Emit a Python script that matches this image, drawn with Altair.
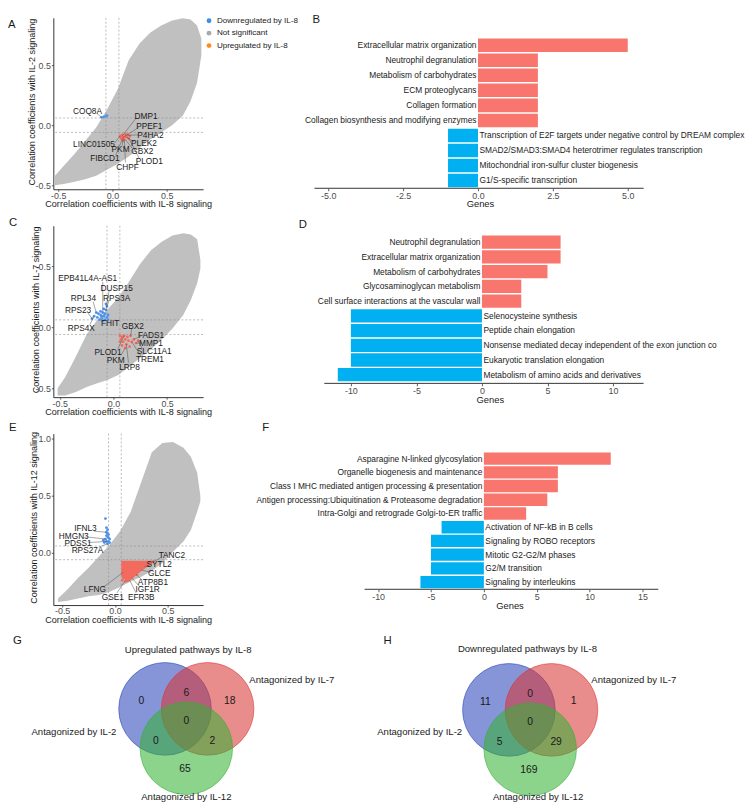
import altair as alt
import pandas as pd

FONT = "Liberation Sans"
GRAY = "#C0C0C0"
BLUE_PT = "#4E93EE"
RED_PT = "#F26B5E"
BAR_RED = "#F8766D"
BAR_BLUE = "#00B0F0"
TXT = "#1A1A1A"
AXC = "#333333"
TICKLAB = "#4D4D4D"
MINUS = "replace(datum.label, '\u2212', '-')"

# ---------------- Panel A (IL-2 vs IL-8) ----------------
a_env_x = [-0.53, -0.45, -0.35, -0.25, -0.15, -0.05, 0.05, 0.15, 0.25, 0.35, 0.45, 0.55, 0.65, 0.72, 0.78, 0.82]
a_env_lo = [-0.50, -0.49, -0.47, -0.45, -0.42, -0.37, -0.32, -0.26, -0.19, -0.12, -0.06, 0.00, 0.08, 0.20, 0.35, 0.58]
a_env_hi = [-0.42, -0.34, -0.24, -0.13, -0.02, 0.13, 0.30, 0.54, 0.68, 0.77, 0.83, 0.87, 0.89, 0.88, 0.83, 0.72]
a_blue_x = [-0.10, -0.08, -0.06, -0.05]
a_blue_y = [0.065, 0.07, 0.075, 0.08]
a_red_x = [0.07, 0.08, 0.09, 0.10, 0.11, 0.12, 0.13, 0.14, 0.15, 0.09, 0.12, 0.16, 0.10, 0.08]
a_red_y = [-0.09, -0.11, -0.08, -0.10, -0.12, -0.09, -0.10, -0.08, -0.11, -0.12, -0.075, -0.09, -0.13, -0.10]
a_lab = ["COQ8A", "DMP1", "PPEF1", "P4HA2", "PLEK2", "GBX2", "PLOD1", "CHPF", "FIBCD1", "PKM", "LINC01505"]
a_lab_x = [-0.23, 0.31, 0.34, 0.35, 0.29, 0.275, 0.34, 0.14, -0.07, 0.075, -0.17]
a_lab_y = [0.115, 0.08, -0.01, -0.08, -0.15, -0.215, -0.30, -0.345, -0.27, -0.20, -0.155]
a_seg_x1 = [-0.14, 0.22, 0.24, 0.245, 0.20, 0.18, 0.25, 0.12, 0.03, 0.09, 0.02]
a_seg_y1 = [0.095, 0.06, -0.02, -0.08, -0.14, -0.19, -0.28, -0.31, -0.25, -0.17, -0.15]
a_seg_x2 = [-0.10, 0.09, 0.10, 0.14, 0.13, 0.12, 0.15, 0.11, 0.09, 0.10, 0.07]
a_seg_y2 = [0.065, -0.09, -0.10, -0.085, -0.10, -0.12, -0.11, -0.12, -0.12, -0.10, -0.09]

# ---------------- Panel C (IL-7 vs IL-8) ----------------
c_env_x = [-0.52, -0.45, -0.35, -0.25, -0.15, -0.05, 0.05, 0.15, 0.25, 0.35, 0.45, 0.55, 0.65, 0.72, 0.78, 0.81]
c_env_lo = [-0.56, -0.56, -0.53, -0.49, -0.46, -0.43, -0.39, -0.32, -0.25, -0.18, -0.10, -0.01, 0.10, 0.22, 0.36, 0.48]
c_env_hi = [-0.50, -0.41, -0.24, -0.06, 0.06, 0.15, 0.25, 0.38, 0.52, 0.63, 0.70, 0.75, 0.77, 0.76, 0.72, 0.55]
c_blue_x = [-0.20, -0.18, -0.15, -0.13, -0.12, -0.11, -0.10, -0.09, -0.08, -0.08, -0.07, -0.06, -0.06, -0.05, -0.12, -0.14, -0.10, -0.16, -0.07, -0.09, -0.11, -0.05]
c_blue_y = [0.07, 0.09, 0.08, 0.06, 0.10, 0.07, 0.12, 0.09, 0.06, 0.11, 0.14, 0.08, 0.17, 0.10, 0.13, 0.11, 0.05, 0.12, 0.19, 0.15, 0.09, 0.06]
c_red_x = [0.06, 0.07, 0.08, 0.09, 0.10, 0.11, 0.12, 0.13, 0.14, 0.16, 0.17, 0.19, 0.21, 0.08, 0.11, 0.06, 0.15, 0.23]
c_red_y = [-0.07, -0.10, -0.08, -0.12, -0.07, -0.10, -0.14, -0.08, -0.11, -0.07, -0.12, -0.10, -0.13, -0.15, -0.17, -0.12, -0.16, -0.11]
c_lab = ["EPB41L4A-AS1", "DUSP15", "RPL34", "RPS3A", "RPS23", "RPS4X", "FHIT", "GBX2", "FADS1", "MMP1", "SLC11A1", "TREM1", "PLOD1", "PKM", "LRP8"]
c_lab_x = [-0.24, 0.03, -0.28, 0.03, -0.33, -0.30, -0.03, 0.18, 0.35, 0.35, 0.38, 0.34, -0.05, 0.02, 0.15]
c_lab_y = [0.40, 0.32, 0.235, 0.235, 0.14, -0.01, 0.03, 0.01, -0.065, -0.13, -0.195, -0.26, -0.20, -0.265, -0.33]
c_seg_x1 = [-0.10, -0.04, -0.19, -0.04, -0.24, -0.22, -0.06, 0.17, 0.26, 0.27, 0.27, 0.26, 0.04, 0.07, 0.14]
c_seg_y1 = [0.37, 0.30, 0.21, 0.22, 0.12, 0.02, 0.05, -0.01, -0.07, -0.13, -0.18, -0.24, -0.18, -0.23, -0.29]
c_seg_x2 = [-0.10, -0.07, -0.16, -0.06, -0.20, -0.18, -0.08, 0.16, 0.19, 0.21, 0.23, 0.17, 0.10, 0.11, 0.12]
c_seg_y2 = [0.12, 0.14, 0.12, 0.17, 0.07, 0.09, 0.06, -0.07, -0.10, -0.13, -0.11, -0.12, -0.07, -0.17, -0.14]

# ---------------- Panel E (IL-12 vs IL-8) ----------------
e_env_x = [-0.54, -0.45, -0.35, -0.25, -0.15, -0.05, 0.05, 0.15, 0.25, 0.35, 0.45, 0.55, 0.65, 0.72, 0.78, 0.81]
e_env_lo = [-0.43, -0.42, -0.40, -0.38, -0.37, -0.34, -0.30, -0.25, -0.21, -0.16, -0.09, 0.01, 0.10, 0.20, 0.36, 0.45]
e_env_hi = [-0.40, -0.32, -0.22, -0.13, -0.03, 0.07, 0.19, 0.36, 0.62, 0.88, 0.96, 0.97, 0.92, 0.84, 0.70, 0.50]
e_redarea_x = [0.06, 0.12, 0.25, 0.39]
e_redarea_lo = [-0.20, -0.26, -0.16, -0.07]
e_redarea_hi = [-0.07, -0.07, -0.07, -0.07]
e_blue_x = [-0.09, -0.08, -0.07, -0.08, -0.06, -0.07, -0.09, -0.05, -0.06, -0.08, -0.10, -0.07, -0.05, -0.11, -0.06, -0.08, -0.07]
e_blue_y = [0.30, 0.22, 0.20, 0.18, 0.16, 0.14, 0.12, 0.12, 0.10, 0.10, 0.09, 0.08, 0.09, 0.11, 0.13, 0.15, 0.17]
e_red_x = [0.08, 0.10, 0.14, 0.17, 0.21, 0.30, 0.34, 0.07, 0.36]
e_red_y = [-0.22, -0.25, -0.23, -0.21, -0.19, -0.11, -0.09, -0.24, -0.08]
e_lab = ["IFNL3", "HMGN3", "PDSS1", "RPS27A", "TANC2", "SYTL2", "GLCE", "ATP8B1", "IGF1R", "EFR3B", "GSE1", "LFNG"]
e_lab_x = [-0.28, -0.39, -0.35, -0.26, 0.54, 0.42, 0.42, 0.36, 0.31, 0.25, -0.02, -0.19]
e_lab_y = [0.215, 0.15, 0.085, 0.02, -0.02, -0.10, -0.18, -0.255, -0.32, -0.385, -0.385, -0.32]
e_seg_x1 = [-0.20, -0.28, -0.25, -0.15, 0.44, 0.33, 0.34, 0.26, 0.24, 0.20, 0.02, -0.11]
e_seg_y1 = [0.19, 0.14, 0.09, 0.05, -0.04, -0.11, -0.17, -0.24, -0.30, -0.35, -0.35, -0.30]
e_seg_x2 = [-0.08, -0.08, -0.07, -0.07, 0.36, 0.28, 0.25, 0.20, 0.16, 0.14, 0.10, 0.08]
e_seg_y2 = [0.18, 0.12, 0.10, 0.08, -0.08, -0.12, -0.15, -0.19, -0.22, -0.24, -0.24, -0.17]

# ---------------- Bar panels ----------------
b_names = ["Extracellular matrix organization", "Neutrophil degranulation", "Metabolism of carbohydrates",
           "ECM proteoglycans", "Collagen formation", "Collagen biosynthesis and modifying enzymes",
           "Transcription of E2F targets under negative control by DREAM complex",
           "SMAD2/SMAD3:SMAD4 heterotrimer regulates transcription",
           "Mitochondrial iron-sulfur cluster biogenesis", "G1/S-specific transcription"]
b_vals = [5, 2, 2, 2, 2, 2, -1, -1, -1, -1]
b_ticks = [-5, -2.5, 0, 2.5, 5]

d_names = ["Neutrophil degranulation", "Extracellular matrix organization", "Metabolism of carbohydrates",
           "Glycosaminoglycan metabolism", "Cell surface interactions at the vascular wall",
           "Selenocysteine synthesis", "Peptide chain elongation",
           "Nonsense mediated decay independent of the exon junction co",
           "Eukaryotic translation elongation", "Metabolism of amino acids and derivatives"]
d_vals = [6, 6, 5, 3, 3, -10, -10, -10, -10, -11]
d_ticks = [-10, -5, 0, 5, 10]

f_names = ["Asparagine N-linked glycosylation", "Organelle biogenesis and maintenance",
           "Class I MHC mediated antigen processing & presentation",
           "Antigen processing:Ubiquitination & Proteasome degradation",
           "Intra-Golgi and retrograde Golgi-to-ER traffic", "Activation of NF-kB in B cells",
           "Signaling by ROBO receptors", "Mitotic G2-G2/M phases", "G2/M transition",
           "Signaling by interleukins"]
f_vals = [12, 7, 7, 6, 4, -4, -5, -5, -5, -6]
f_ticks = [-10, -5, 0, 5, 10, 15]

# ---------------- Venn panels ----------------
venn_sets = ["Antagonized by IL-2", "Antagonized by IL-7", "Antagonized by IL-12"]
venn_cols = ["#2A43BA", "#D93434", "#35B135"]
venn_cx = [-0.46, 0.46, 0.0]
venn_cy = [0.29, 0.29, -0.56]
region_x = [-0.97, 0.0, 0.94, 0.0, -0.66, 0.56, -0.03]
region_y = [0.46, 0.63, 0.47, 0.02, -0.40, -0.40, -1.0]
g_counts = [0, 6, 18, 0, 0, 2, 65]
h_counts = [11, 0, 1, 0, 5, 29, 169]
g_text = ["Upregulated pathways by IL-8", "Antagonized by IL-7", "Antagonized by IL-2", "Antagonized by IL-12"]
g_text_x = [0.04, 1.36, -1.51, 0.0]
g_text_y = [1.57, 0.915, -0.21, -1.62]
h_text = ["Downregulated pathways by IL-8", "Antagonized by IL-7", "Antagonized by IL-2", "Antagonized by IL-12"]
h_text_x = [-0.06, 1.32, -1.47, 0.17]
h_text_y = [1.60, 0.936, -0.19, -1.60]
text_align = ["center", "left", "right", "center"]

legend_labels = ["Downregulated by IL-8", "Not significant", "Upregulated by IL-8"]
legend_cols = ["#3D8FE8", "#A9A9A9", "#FF8C1A"]


def letter_layer(letter, x, y):
    return alt.Chart(pd.DataFrame({"t": [letter]})).mark_text(
        font=FONT, fontSize=11.5, align="left", baseline="middle", color=TXT
    ).encode(text="t:N", x=alt.value(x), y=alt.value(y))


def scatter_panel(env_x, env_lo, env_hi, bx, by, rx, ry, labs, lab_x, lab_y,
                  sx1, sy1, sx2, sy2, xdom, ydom, yvals, ytitle, ytitle_x,
                  letter, letter_xy, area=None, legend=False):
    W, H = 152, 174
    xs = alt.Scale(domain=xdom, nice=False, zero=False)
    ys = alt.Scale(domain=ydom, nice=False, zero=False)
    common = dict(grid=False, domainColor=AXC, domainWidth=1, tickColor=AXC, tickSize=2,
                  tickWidth=0.8, labelFont=FONT, labelFontSize=9, labelColor=TICKLAB,
                  labelExpr=MINUS, titleFont=FONT, titleFontSize=9.2, titleFontWeight="normal",
                  titleColor=TXT, format=".1f")
    xax = alt.Axis(values=[-0.5, 0, 0.5], title="Correlation coefficients with IL-8 signaling",
                   labelPadding=0, titlePadding=0, **common)
    yax = alt.Axis(values=yvals, title=ytitle, labelPadding=1, titleX=ytitle_x, titleY=H / 2 - 2,
                   titleAngle=270, titleAlign="center", titleBaseline="bottom", **common)

    def X(f):
        return alt.X(f, type="quantitative", scale=xs, axis=xax)

    def Y(f):
        return alt.Y(f, type="quantitative", scale=ys, axis=yax)

    layers = []
    env = pd.DataFrame({"x": env_x, "lo": env_lo, "hi": env_hi})
    layers.append(alt.Chart(env).mark_area(color=GRAY, opacity=1).encode(
        x=X("x"), y=Y("lo"), y2=alt.Y2("hi")))
    thr = pd.DataFrame({"t": [-0.06, 0.06]})
    layers.append(alt.Chart(thr).mark_rule(color="#8C8C8C", strokeDash=[2, 2], strokeWidth=0.6).encode(x=X("t")))
    layers.append(alt.Chart(thr).mark_rule(color="#8C8C8C", strokeDash=[2, 2], strokeWidth=0.6).encode(y=Y("t")))
    if area is not None:
        adf = pd.DataFrame({"x": area[0], "lo": area[1], "hi": area[2]})
        layers.append(alt.Chart(adf).mark_area(color=RED_PT, opacity=1).encode(
            x=X("x"), y=Y("lo"), y2=alt.Y2("hi")))
    layers.append(alt.Chart(pd.DataFrame({"x": bx, "y": by})).mark_circle(
        size=8, color=BLUE_PT, opacity=1).encode(x=X("x"), y=Y("y")))
    layers.append(alt.Chart(pd.DataFrame({"x": rx, "y": ry})).mark_circle(
        size=8, color=RED_PT, opacity=1).encode(x=X("x"), y=Y("y")))
    seg = pd.DataFrame({"x": sx1, "y": sy1, "x2": sx2, "y2": sy2})
    layers.append(alt.Chart(seg).mark_rule(color="#4D4D4D", strokeWidth=0.5).encode(
        x=X("x"), y=Y("y"), x2=alt.X2("x2"), y2=alt.Y2("y2")))
    lab = pd.DataFrame({"x": lab_x, "y": lab_y, "t": labs})
    layers.append(alt.Chart(lab).mark_text(font=FONT, fontSize=8.4, color=TXT).encode(
        x=X("x"), y=Y("y"), text="t:N"))
    if legend:
        for i, (lt, lc) in enumerate(zip(legend_labels, legend_cols)):
            ldf = pd.DataFrame({"t": [lt]})
            layers.append(alt.Chart(ldf).mark_circle(size=24, color=lc, opacity=1).encode(
                x=alt.value(158), y=alt.value(3 + 12.6 * i)))
            layers.append(alt.Chart(ldf).mark_text(font=FONT, fontSize=8.2, align="left",
                                                   baseline="middle", color=TXT).encode(
                text="t:N", x=alt.value(166), y=alt.value(3 + 12.6 * i)))
    layers.append(letter_layer(letter, *letter_xy))
    return alt.layer(*layers).properties(width=W, height=H)


def bar_panel(names, vals, ticks, fmt, xdom, line_lo, line_hi, H, po, align, title_x,
              title_y, letter, letter_xy):
    W = 365
    df = pd.DataFrame({"name": names, "value": vals, "zero": [0] * len(vals)})
    xs = alt.Scale(domain=xdom, nice=False, zero=False)
    ys = alt.Scale(domain=names, paddingInner=0.1, paddingOuter=po, align=align)
    xax = alt.Axis(values=ticks, format=fmt, labelExpr=MINUS, domain=False, grid=False,
                   tickSize=2.5, tickColor=AXC, tickWidth=0.8, labelFont=FONT, labelFontSize=9,
                   labelColor=TICKLAB, labelPadding=0.5, title="Genes", titleFont=FONT,
                   titleFontSize=9.5, titleFontWeight="normal", titleColor=TXT,
                   titleX=title_x, titleY=title_y, titleAlign="center", titleBaseline="top")
    Yn = alt.Y("name:N", scale=ys, axis=None)
    base = alt.Chart(df)
    pos = base.transform_filter("datum.value > 0")
    neg = base.transform_filter("datum.value < 0")
    layers = [
        pos.mark_bar(color=BAR_RED).encode(x=alt.X("value:Q", scale=xs, axis=xax), x2=alt.X2("zero"), y=Yn),
        neg.mark_bar(color=BAR_BLUE).encode(x=alt.X("value:Q", scale=xs, axis=xax), x2=alt.X2("zero"), y=Yn),
        pos.mark_text(font=FONT, fontSize=8.5, color=TXT, align="right", baseline="middle", dx=-1.5).encode(
            x=alt.X("zero:Q", scale=xs, axis=xax), y=Yn, text="name:N"),
        neg.mark_text(font=FONT, fontSize=8.5, color=TXT, align="left", baseline="middle", dx=1.5).encode(
            x=alt.X("zero:Q", scale=xs, axis=xax), y=Yn, text="name:N"),
    ]
    line = pd.DataFrame({"lo": [line_lo], "hi": [line_hi]})
    layers.append(alt.Chart(line).mark_rule(color=AXC, strokeWidth=1).encode(
        x=alt.X("lo:Q", scale=xs, axis=xax), x2=alt.X2("hi"), y=alt.value(H)))
    layers.append(letter_layer(letter, *letter_xy))
    return alt.layer(*layers).properties(width=W, height=H)


def venn_panel(counts, texts, tx, ty, xdom, ydom, W, H, letter, letter_xy):
    xs = alt.Scale(domain=xdom, nice=False, zero=False)
    ys = alt.Scale(domain=ydom, nice=False, zero=False)

    def X(f):
        return alt.X(f, type="quantitative", scale=xs, axis=None)

    def Y(f):
        return alt.Y(f, type="quantitative", scale=ys, axis=None)

    circ = pd.DataFrame({"x": venn_cx, "y": venn_cy, "set": venn_sets})
    cscale = alt.Scale(domain=venn_sets, range=venn_cols)
    layers = [alt.Chart(circ).mark_circle(size=8836, opacity=1, fillOpacity=0.57,
                                           strokeOpacity=0.55, strokeWidth=1).encode(
        x=X("x"), y=Y("y"),
        color=alt.Color("set:N", scale=cscale, legend=None),
        stroke=alt.Stroke("set:N", scale=cscale, legend=None))]
    cnt = pd.DataFrame({"x": region_x, "y": region_y, "n": [str(c) for c in counts]})
    layers.append(alt.Chart(cnt).mark_text(font=FONT, fontSize=10.5, color=TXT).encode(
        x=X("x"), y=Y("y"), text="n:N"))
    for t, x, y, a in zip(texts, tx, ty, text_align):
        layers.append(alt.Chart(pd.DataFrame({"x": [x], "y": [y], "t": [t]})).mark_text(
            font=FONT, fontSize=9.7, color=TXT, align=a, baseline="middle").encode(
            x=X("x"), y=Y("y"), text="t:N"))
    layers.append(letter_layer(letter, *letter_xy))
    return alt.layer(*layers).properties(width=W, height=H)


A = scatter_panel(a_env_x, a_env_lo, a_env_hi, a_blue_x, a_blue_y, a_red_x, a_red_y,
                  a_lab, a_lab_x, a_lab_y, a_seg_x1, a_seg_y1, a_seg_x2, a_seg_y2,
                  [-0.545, 0.836], [-0.533, 0.893], [-0.5, 0, 0.5],
                  "Correlation coefficients with IL-2 signaling", -17, "A", (-46, 7), legend=True)
C = scatter_panel(c_env_x, c_env_lo, c_env_hi, c_blue_x, c_blue_y, c_red_x, c_red_y,
                  c_lab, c_lab_x, c_lab_y, c_seg_x1, c_seg_y1, c_seg_x2, c_seg_y2,
                  [-0.56, 0.835], [-0.573, 0.831], [-0.5, 0, 0.5],
                  "Correlation coefficients with IL-7 signaling", -13, "C", (-45, -3))
E = scatter_panel(e_env_x, e_env_lo, e_env_hi, e_blue_x, e_blue_y, e_red_x, e_red_y,
                  e_lab, e_lab_x, e_lab_y, e_seg_x1, e_seg_y1, e_seg_x2, e_seg_y2,
                  [-0.584, 0.836], [-0.457, 1.043], [0, 0.5, 1.0],
                  "Correlation coefficients with IL-12 signaling", -15, "E", (-45, -6),
                  area=(e_redarea_x, e_redarea_lo, e_redarea_hi))

B = bar_panel(b_names, b_vals, b_ticks, ".1f", [-5.888, 6.118], -5.46, 5.53, 173, 0.72, 0.955,
              181, 11, "B", (11, 2))
D = bar_panel(d_names, d_vals, d_ticks, "d", [-13.76, 13.68], -12.03, 12.33, 160, 0.40, 0.83,
              191, 11, "D", (-3, -1))
F = bar_panel(f_names, f_vals, f_ticks, "d", [-17.24, 16.78], -11.28, 16.5, 158, 0.72, 0.95,
              211, 12, "F", (-40, -6))

G = venn_panel(g_counts, g_text, g_text_x, g_text_y, [-2.872, 0.362], [-1.660, 1.745],
               152, 160, "G", (-41, 0))
Hh = venn_panel(h_counts, h_text, h_text_x, h_text_y, [-4.936, 2.830], [-1.638, 1.766],
                365, 160, "H", (83, 0))

chart = alt.concat(A, B, C, D, E, F, G, Hh, columns=2,
                   spacing={"row": 37, "column": 100}, bounds="flush").resolve_scale(
    x="independent", y="independent", color="independent", stroke="independent"
).properties(padding=0).configure(font=FONT).configure_view(stroke=None)

chart.save("out.html", embed_options={"renderer": "svg", "actions": False})
